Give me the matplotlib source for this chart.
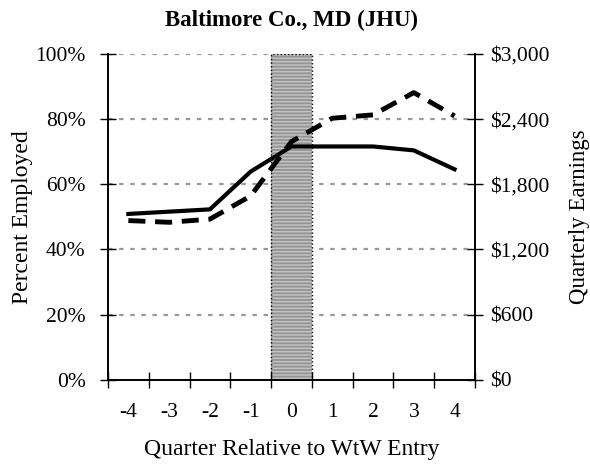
import matplotlib.pyplot as plt
from matplotlib.ticker import FuncFormatter

plt.rcParams['font.family'] = ['Liberation Serif', 'DejaVu Serif']
plt.rcParams['axes.unicode_minus'] = False

#   Data
quarters = [-4, -3, -2, -1, 0, 1, 2, 3, 4]
pct_employed = [50.9, 51.6, 52.3, 63.9, 71.6, 71.6, 71.6, 70.4, 64.6]
earnings = [1466, 1450, 1479, 1693, 2193, 2408, 2439, 2644, 2429]
title = 'Baltimore Co., MD (JHU)'

fig = plt.figure(figsize=(5.9, 4.73), dpi=100)
ax = fig.add_axes([0.183, 0.197, 0.622, 0.689])
ax2 = ax.twinx()

# shaded entry quarter
ax.axvspan(-0.5, 0.5, facecolor='#969696', edgecolor='#c4c4c4', hatch='-----', linewidth=0, zorder=1)
ax.axvspan(-0.5, 0.5, facecolor='none', edgecolor='black', linestyle=':', linewidth=1, zorder=2)

# grid lines
for g in [20, 40, 60, 80, 100]:
    ax.axhline(g, color='#999999', linestyle=(0, (2, 3)), linewidth=1.6, zorder=0.5)

ax.plot(quarters, pct_employed, color='black', linewidth=3, zorder=3)
ax2.plot(quarters, earnings, color='black', linewidth=3.5, linestyle=(0, (3.5, 2)), zorder=3)

ax.set_xlim(-4.5, 4.5)
ax.set_ylim(0, 100)
ax2.set_ylim(0, 3000)

ax.set_xticks(quarters)
ax.set_xticks([q + 0.5 for q in [-5] + quarters], minor=True)
ax.tick_params(axis='x', which='major', length=0, pad=17, labelsize=15.5)
ax.tick_params(axis='x', which='minor', direction='inout', length=12, width=1)
ax.set_yticks([0, 20, 40, 60, 80, 100])
ax.yaxis.set_major_formatter(FuncFormatter(lambda v, p: f'{v:.0f}%'))
ax.tick_params(axis='y', direction='inout', length=12, width=1, pad=10, labelsize=15.5)

ax2.set_yticks([0, 600, 1200, 1800, 2400, 3000])
ax2.yaxis.set_major_formatter(FuncFormatter(lambda v, p: f'${v:,.0f}'))
ax2.tick_params(axis='y', direction='inout', length=12, width=1, pad=5, labelsize=15.5)

for a in (ax, ax2):
    a.spines['top'].set_visible(False)
    for s in ['left', 'right', 'bottom']:
        a.spines[s].set_linewidth(1.2)

ax.set_xlabel('Quarter Relative to WtW Entry', fontsize=17, labelpad=12)
ax.set_ylabel('Percent Employed', fontsize=17, labelpad=2)
ax2.set_ylabel('Quarterly Earnings', fontsize=16.5, labelpad=14)
ax.set_title(title, fontsize=16.5, fontweight='bold', pad=20)

fig.savefig('out.png', dpi=100)
